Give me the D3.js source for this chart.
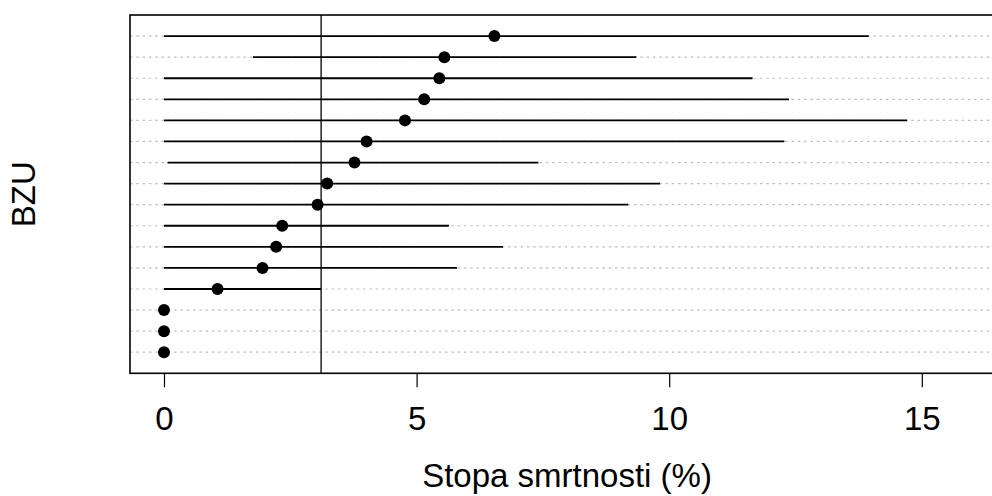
<!DOCTYPE html>
<html>
<head>
<meta charset="utf-8">
<script src="https://cdn.jsdelivr.net/npm/d3@7"></script>
<style>
  body { margin: 0; background: #fff; }
  svg { display: block; font-family: "Liberation Sans", Arial, sans-serif; }
</style>
</head>
<body>
<div id="chart"></div>
<script>
// rows listed top to bottom
const rows = d3.range(1, 17);
const rate  = [6.54, 5.55, 5.45, 5.15, 4.77, 4.01, 3.77, 3.23, 3.04, 2.34, 2.22, 1.95, 1.06, 0, 0, 0];
const lower = [0, 1.76, 0, 0, 0, 0, 0.07, 0, 0, 0, 0, 0, 0, null, null, null];
const upper = [13.95, 9.35, 11.65, 12.37, 14.71, 12.28, 7.41, 9.82, 9.19, 5.64, 6.71, 5.80, 3.11, null, null, null];
const refRate = 3.11;
const xTicks = [0, 5, 10, 15];
const xLabel = "Stopa smrtnosti (%)";
const yLabel = "BZU";

const width = 992, height = 496;
const box = { left: 130, top: 15, right: 1004, bottom: 373.3 };

const x = d3.scaleLinear().domain([0, 15]).range([164, 921.8]);
// rows at 1..16 counted from the bottom, axis spans 0..17
const y = d3.scaleLinear().domain([0, 17]).range([box.bottom, box.top]);
const rowY = (i) => y(rows.length - i);

const svg = d3.select("#chart")
  .append("svg")
  .attr("width", width)
  .attr("height", height);

// dotted guide lines
svg.append("g")
  .selectAll("line")
  .data(rows)
  .join("line")
  .attr("x1", box.left)
  .attr("x2", box.right)
  .attr("y1", (d, i) => rowY(i))
  .attr("y2", (d, i) => rowY(i))
  .attr("stroke", "#bebebe")
  .attr("stroke-width", 1.2)
  .attr("stroke-dasharray", "2.5,3.8");

// interval lines
const ci = rows.map((d, i) => ({ i, lo: lower[i], hi: upper[i] })).filter((d) => d.lo !== null);
svg.append("g")
  .selectAll("line")
  .data(ci)
  .join("line")
  .attr("x1", (d) => x(d.lo))
  .attr("x2", (d) => x(d.hi))
  .attr("y1", (d) => rowY(d.i))
  .attr("y2", (d) => rowY(d.i))
  .attr("stroke", "#000")
  .attr("stroke-width", 1.8);

// reference line
svg.append("line")
  .attr("x1", x(refRate))
  .attr("x2", x(refRate))
  .attr("y1", box.top)
  .attr("y2", box.bottom)
  .attr("stroke", "#000")
  .attr("stroke-width", 1.3);

// points
svg.append("g")
  .selectAll("circle")
  .data(rate)
  .join("circle")
  .attr("cx", (d) => x(d))
  .attr("cy", (d, i) => rowY(i))
  .attr("r", 6)
  .attr("fill", "#000");

// frame
svg.append("rect")
  .attr("x", box.left)
  .attr("y", box.top)
  .attr("width", box.right - box.left)
  .attr("height", box.bottom - box.top)
  .attr("fill", "none")
  .attr("stroke", "#000")
  .attr("stroke-width", 1.6);

// x axis
const xAxis = d3.axisBottom(x).tickValues(xTicks).tickSize(14).tickPadding(5).tickFormat(d3.format("d"));
const axG = svg.append("g")
  .attr("transform", `translate(0,${box.bottom})`)
  .call(xAxis);
axG.select(".domain").remove();
axG.selectAll(".tick line").attr("stroke", "#000").attr("stroke-width", 1.2);
axG.selectAll(".tick text")
  .attr("font-family", "Liberation Sans, Arial, sans-serif")
  .attr("font-size", 33)
  .attr("fill", "#000")
  .attr("dy", null)
  .attr("y", 430 - box.bottom);

svg.append("text")
  .attr("x", (box.left + box.right) / 2)
  .attr("y", 487)
  .attr("text-anchor", "middle")
  .attr("font-size", 33)
  .attr("fill", "#000")
  .text(xLabel);

svg.append("text")
  .attr("transform", `translate(35,${(box.top + box.bottom) / 2}) rotate(-90)`)
  .attr("text-anchor", "middle")
  .attr("font-size", 33)
  .attr("fill", "#000")
  .text(yLabel);
</script>
</body>
</html>
